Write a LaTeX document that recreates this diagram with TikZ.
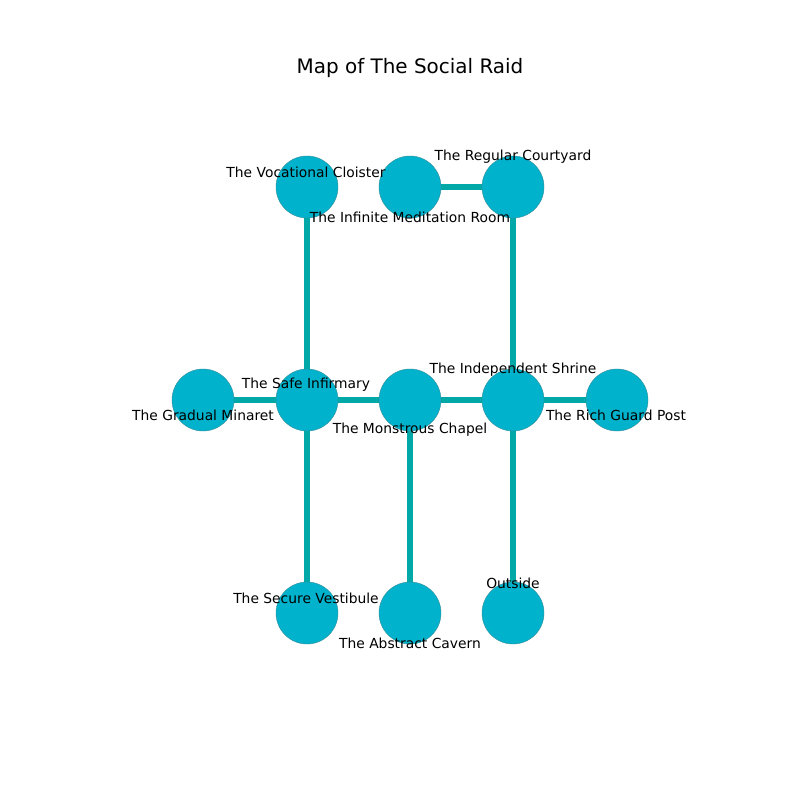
\documentclass[tikz,border=0pt]{standalone}
\usepackage{fontspec}
\setmainfont{DejaVu Sans}
\usetikzlibrary{backgrounds}
\definecolor{nodefill}{HTML}{00B2CB}
\definecolor{edgecol}{HTML}{00A8A8}
\definecolor{rim}{HTML}{3A8E9A}
\begin{document}
\begin{tikzpicture}[x=0.01in,y=-0.01in,
  place/.style={circle,fill=nodefill,draw=rim,line width=0.3pt,minimum size=0.62in,inner sep=0pt},
  lab/.style={font=\fontsize{10}{12}\selectfont,inner sep=0pt,anchor=center},
  conn/.style={draw=edgecol,line width=3.8pt}]
\useasboundingbox (0,0) rectangle (800,800);
\node[font=\fontsize{14.4}{16}\selectfont] (title) at (410,68) {Map of The Social Raid};
% nodes
\node[place] (voc) at (307,187) {};
\node[place] (inf) at (410,187) {};
\node[place] (reg) at (513,187) {};
\node[place] (gra) at (203,400) {};
\node[place] (saf) at (307,400) {};
\node[place] (mon) at (410,400) {};
\node[place] (ind) at (513,400) {};
\node[place] (ric) at (617,400) {};
\node[place] (sec) at (307,613) {};
\node[place] (abs) at (410,613) {};
\node[place] (out) at (513,613) {};
% edges
\begin{scope}[on background layer]
\draw[conn] (inf.center) -- (reg.center);
\draw[conn] (reg.center) -- (ind.center);
\draw[conn] (voc.center) -- (saf.center);
\draw[conn] (gra.center) -- (saf.center);
\draw[conn] (saf.center) -- (mon.center);
\draw[conn] (mon.center) -- (ind.center);
\draw[conn] (ind.center) -- (ric.center);
\draw[conn] (saf.center) -- (sec.center);
\draw[conn] (mon.center) -- (abs.center);
\draw[conn] (ind.center) -- (out.center);
\end{scope}
% labels
\node[lab] (lvoc) at (306,172) {The Vocational Cloister};
\node[lab] (linf) at (410,217) {The Infinite Meditation Room};
\node[lab] (lreg) at (513,157) {The Regular Courtyard};
\node[lab] (lsaf) at (306,385) {The Safe Infirmary};
\node[lab] (lgra) at (203,415) {The Gradual Minaret};
\node[lab] (lmon) at (410,430) {The Monstrous Chapel};
\node[lab] (lind) at (513,370) {The Independent Shrine};
\node[lab] (lric) at (616,415) {The Rich Guard Post};
\node[lab] (lsec) at (306,598) {The Secure Vestibule};
\node[lab] (labs) at (410,643) {The Abstract Cavern};
\node[lab] (lout) at (513,583) {Outside};
\end{tikzpicture}
\end{document}
